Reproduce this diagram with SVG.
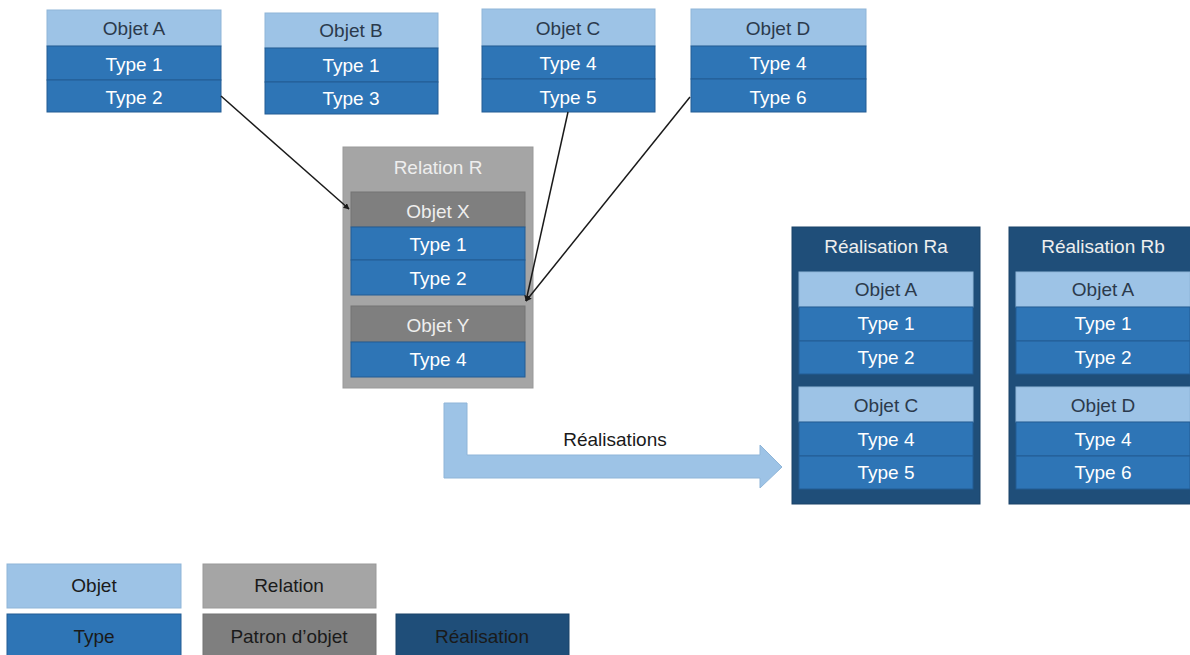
<svg xmlns="http://www.w3.org/2000/svg" width="1190" height="655" viewBox="0 0 1190 655">
<defs>
<style>
text{font-family:"Liberation Sans",Arial,sans-serif;font-size:19px;text-anchor:middle;dominant-baseline:central}
.obj{fill:#9dc3e6;stroke:#8fb5d8;stroke-width:1}
.typ{fill:#2e75b6;stroke:#225d94;stroke-width:1}
.rel{fill:#a5a5a5;stroke:#999;stroke-width:1}
.pat{fill:#7f7f7f;stroke:#747474;stroke-width:1}
.rea{fill:#1f4e79;stroke:#1a4268;stroke-width:1}
.to{fill:#2b3a4c}
.tt{fill:#ffffff}
.tl{fill:#eeeeee}
.td{fill:#1a1a1a}
.conn{stroke:#1a1a1a;stroke-width:1.5;fill:none;marker-end:url(#ah)}
</style>
<marker id="ah" viewBox="0 0 10 10" refX="9" refY="5" markerWidth="6" markerHeight="6" orient="auto" markerUnits="userSpaceOnUse">
<path d="M0,0 L10,5 L0,10 z" fill="#1a1a1a"/>
</marker>
</defs>
<rect width="1190" height="655" fill="#ffffff"/>

<g id="objetA">
<rect class="obj" x="47" y="10" width="174" height="36"/>
<rect class="typ" x="47" y="46" width="174" height="34"/>
<rect class="typ" x="47" y="80" width="174" height="32"/>
<text class="to" x="134" y="28">Objet A</text>
<text class="tt" x="134" y="64">Type 1</text>
<text class="tt" x="134" y="97">Type 2</text>
</g>
<g id="objetB">
<rect class="obj" x="265" y="13" width="173" height="35"/>
<rect class="typ" x="265" y="48" width="173" height="34"/>
<rect class="typ" x="265" y="82" width="173" height="32"/>
<text class="to" x="351" y="30">Objet B</text>
<text class="tt" x="351" y="65">Type 1</text>
<text class="tt" x="351" y="98">Type 3</text>
</g>
<g id="objetC">
<rect class="obj" x="482" y="9" width="173" height="37"/>
<rect class="typ" x="482" y="46" width="173" height="33"/>
<rect class="typ" x="482" y="79" width="173" height="33"/>
<text class="to" x="568" y="28">Objet C</text>
<text class="tt" x="568" y="63">Type 4</text>
<text class="tt" x="568" y="97">Type 5</text>
</g>
<g id="objetD">
<rect class="obj" x="691" y="9" width="175" height="37"/>
<rect class="typ" x="691" y="46" width="175" height="33"/>
<rect class="typ" x="691" y="79" width="175" height="33"/>
<text class="to" x="778" y="28">Objet D</text>
<text class="tt" x="778" y="63">Type 4</text>
<text class="tt" x="778" y="97">Type 6</text>
</g>

<g id="relationR">
<rect class="rel" x="343" y="147" width="190" height="241"/>
<text class="tl" x="438" y="167">Relation R</text>
<rect class="pat" x="351" y="192" width="174" height="35"/>
<rect class="typ" x="351" y="227" width="174" height="33"/>
<rect class="typ" x="351" y="260" width="174" height="35"/>
<text class="tl" x="438" y="211">Objet X</text>
<text class="tt" x="438" y="244">Type 1</text>
<text class="tt" x="438" y="278">Type 2</text>
<rect class="pat" x="351" y="306" width="174" height="36"/>
<rect class="typ" x="351" y="342" width="174" height="35"/>
<text class="tl" x="438" y="325">Objet Y</text>
<text class="tt" x="438" y="359">Type 4</text>
</g>

<g id="realisationRa">
<rect class="rea" x="792" y="227" width="188" height="277"/>
<text class="tl" x="886" y="246">Réalisation Ra</text>
<rect class="obj" x="799" y="272" width="174" height="35"/>
<rect class="typ" x="799" y="307" width="174" height="34"/>
<rect class="typ" x="799" y="341" width="174" height="33"/>
<text class="to" x="886" y="289">Objet A</text>
<text class="tt" x="886" y="323">Type 1</text>
<text class="tt" x="886" y="357">Type 2</text>
<rect class="obj" x="799" y="387" width="174" height="35"/>
<rect class="typ" x="799" y="422" width="174" height="34"/>
<rect class="typ" x="799" y="456" width="174" height="33"/>
<text class="to" x="886" y="405">Objet C</text>
<text class="tt" x="886" y="439">Type 4</text>
<text class="tt" x="886" y="472">Type 5</text>
</g>

<g id="realisationRb">
<rect class="rea" x="1009" y="227" width="188" height="277"/>
<text class="tl" x="1103" y="246">Réalisation Rb</text>
<rect class="obj" x="1016" y="272" width="174" height="35"/>
<rect class="typ" x="1016" y="307" width="174" height="34"/>
<rect class="typ" x="1016" y="341" width="174" height="33"/>
<text class="to" x="1103" y="289">Objet A</text>
<text class="tt" x="1103" y="323">Type 1</text>
<text class="tt" x="1103" y="357">Type 2</text>
<rect class="obj" x="1016" y="387" width="174" height="35"/>
<rect class="typ" x="1016" y="422" width="174" height="34"/>
<rect class="typ" x="1016" y="456" width="174" height="33"/>
<text class="to" x="1103" y="405">Objet D</text>
<text class="tt" x="1103" y="439">Type 4</text>
<text class="tt" x="1103" y="472">Type 6</text>
</g>

<g id="connectors">
<line class="conn" x1="221" y1="96" x2="349" y2="209"/>
<line class="conn" x1="568" y1="112" x2="526" y2="301"/>
<line class="conn" x1="690" y1="97" x2="526" y2="301"/>
</g>

<g id="realisationsArrow">
<path d="M444,403 L467,403 L467,455 L760,455 L760,445 L782,467 L760,488 L760,478 L444,478 Z" fill="#9dc3e6" stroke="#8fb5d8" stroke-width="1"/>
<text class="td" x="615" y="439">Réalisations</text>
</g>

<g id="legend">
<g id="legendObjet"><rect class="obj" x="7" y="564" width="174" height="44"/><text class="td" x="94" y="585">Objet</text></g>
<g id="legendRelation"><rect class="rel" x="203" y="564" width="173" height="44"/><text class="td" x="289" y="585">Relation</text></g>
<g id="legendType"><rect class="typ" x="7" y="614" width="174" height="46"/><text class="td" x="94" y="636">Type</text></g>
<g id="legendPatron"><rect class="pat" x="203" y="614" width="173" height="46"/><text class="td" x="289" y="636">Patron d’objet</text></g>
<g id="legendRealisation"><rect class="rea" x="396" y="614" width="173" height="46"/><text class="td" x="482" y="636">Réalisation</text></g>
</g>
</svg>
